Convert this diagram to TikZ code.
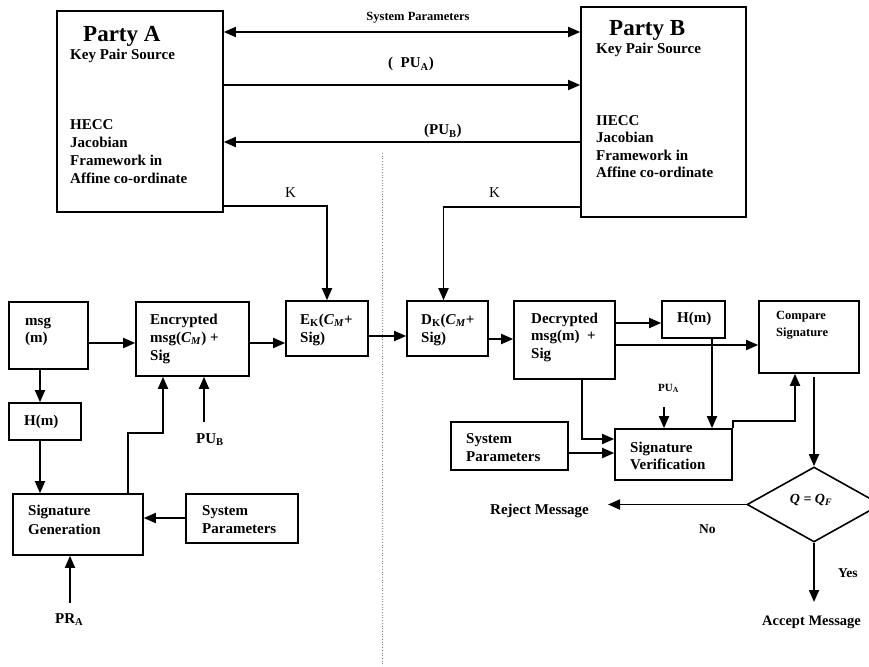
\documentclass[tikz,border=0pt]{standalone}
\usepackage{fontspec}
\setmainfont{Liberation Serif}
\usetikzlibrary{arrows.meta}
\usetikzlibrary{shapes.geometric}

\begin{document}
\begin{tikzpicture}[x=1pt,y=-1pt,
    box/.style={draw, line width=1.6pt, inner sep=0pt},
    arr/.style={line width=1.8pt, -{Triangle[length=12pt,width=10pt]}},
    dbl/.style={arr, {Triangle[length=12pt,width=10pt]}-{Triangle[length=12pt,width=10pt]}},
    lbl/.style={inner sep=0pt, anchor=base west, align=left, font=\bfseries\fontsize{15}{18}\selectfont},
    small/.style={lbl, font=\bfseries\fontsize{12.5}{17}\selectfont}]
\useasboundingbox (0,0) rectangle (869,666);

% the two parties
\node[box, minimum width=166, minimum height=201] (pa) at (140,111.5) {};
\node[box, minimum width=165, minimum height=210] (pb) at (663.5,112) {};
\node[lbl, font=\bfseries\fontsize{23}{26}\selectfont] (pat) at (83,42) {Party A};
\node[lbl] (pak) at (70,60) {Key Pair Source};
\node[lbl, font=\bfseries\fontsize{15}{17.7}\selectfont] (pah) at (70,183) {HECC\\Jacobian\\Framework in\\Affine co-ordinate};
\node[lbl, font=\bfseries\fontsize{23}{26}\selectfont] (pbt) at (609,36) {Party B};
\node[lbl] (pbk) at (596,54) {Key Pair Source};
\node[lbl, font=\bfseries\fontsize{15}{17.5}\selectfont] (pbh) at (596,177.5) {IIECC\\Jacobian\\Framework in\\Affine co-ordinate};

% sender side
\node[box, minimum width=79, minimum height=67] (msg) at (48.5,335.5) {};
\node[box, minimum width=113, minimum height=74] (enc) at (192.5,339) {};
\node[box, minimum width=82, minimum height=55] (ek) at (327,328.5) {};
\node[box, minimum width=72, minimum height=37] (hml) at (45,421.5) {};
\node[box, minimum width=130, minimum height=61] (sg) at (78,524.5) {};
\node[box, minimum width=112, minimum height=49] (spl) at (242,518.5) {};
\node[lbl, font=\bfseries\fontsize{15}{17}\selectfont] (msgt) at (25,342) {msg\\(m)};
\node[lbl] (enct) at (150,360) {Encrypted\\msg(\textit{C}\textsubscript{\textit{M}}) +\\Sig};
\node[lbl] (ekt) at (300,342) {E\textsubscript{K}(\textit{C}\textsubscript{\textit{M}}+\\Sig)};
\node[lbl] (hmlt) at (24,425) {H(m)};
\node[lbl, font=\bfseries\fontsize{15}{19}\selectfont] (sgt) at (28,534) {Signature\\Generation};
\node[lbl] (splt) at (202,533) {System\\Parameters};
\coordinate (pub) at (204,422);
\coordinate (pra) at (70,603);
\node[lbl] (pubt) at (196,443) {PU\textsubscript{B}};
\node[lbl] (prat) at (55,623) {PR\textsubscript{A}};

% receiver side
\node[box, minimum width=81, minimum height=55] (dk) at (447.5,328.5) {};
\node[box, minimum width=101, minimum height=78] (dec) at (564.5,340) {};
\node[box, minimum width=63, minimum height=37] (hmr) at (693.5,319.5) {};
\node[box, minimum width=100, minimum height=72] (cmp) at (809,337) {};
\node[box, minimum width=117, minimum height=51] (sv) at (673.5,454.5) {};
\node[box, minimum width=117, minimum height=48] (spr) at (509.5,446) {};
\node[draw, diamond, line width=1.6pt, inner sep=0pt, minimum width=134, minimum height=75] (dia) at (814,504.5) {};
\node[lbl] (dkt) at (421,342) {D\textsubscript{K}(\textit{C}\textsubscript{\textit{M}}+\\Sig)};
\node[lbl, font=\bfseries\fontsize{15}{17.5}\selectfont] (dect) at (531,358) {Decrypted\\msg(m)~~+\\Sig};
\node[lbl] (hmrt) at (677,322) {H(m)};
\node[small] (cmpt) at (776,336) {Compare\\Signature};
\node[lbl, font=\bfseries\fontsize{15}{17}\selectfont] (svt) at (630,469) {Signature\\Verification};
\node[lbl] (sprt) at (466,461) {System\\Parameters};
\node[small, font=\bfseries\fontsize{11}{13}\selectfont] (puat) at (658,391) {PU\textsubscript{A}};
\node[small, anchor=base, font=\bfseries\fontsize{14}{17}\selectfont] (diat) at (811,503) {\textit{Q = Q}\textsubscript{\textit{F}}};
\coordinate (pua) at (664,407);
\coordinate (rej) at (608,504.5);
\coordinate (acc) at (814,602);
\node[lbl] (rejt) at (490,514) {Reject Message};
\node[small, font=\bfseries\fontsize{13.5}{16}\selectfont] (not) at (699,533) {No};
\node[small, font=\bfseries\fontsize{13.5}{16}\selectfont] (yest) at (838,577) {Yes};
\node[lbl, font=\bfseries\fontsize{14.5}{17}\selectfont] (acct) at (762,625) {Accept Message};

% key exchange
\draw[dbl] (pa.east |- 0,32) -- (pb.west |- 0,32);
\draw[arr] (pa.east |- 0,85) -- (pb.west |- 0,85);
\draw[arr] (pb.west |- 0,142) -- (pa.east |- 0,142);
\draw[arr] (pa.east |- 0,206) -| (ek.north);
\draw[arr] (pb.west |- 0,207) -| ([xshift=-4pt]dk.north);
\node[small, anchor=base] (spt) at (418,21) {System Parameters};
\node[lbl] (puAt) at (388,68) {(~~PU\textsubscript{A})};
\node[lbl] (puBt) at (424,135) {(PU\textsubscript{B})};
\node[lbl, font=\fontsize{15}{18}\selectfont] (ka) at (285,197) {K};
\node[lbl, font=\fontsize{15}{18}\selectfont] (kb) at (489,197) {K};

% sender flow
\draw[arr] (msg.east |- 0,343) -- (enc.west |- 0,343);
\draw[arr] (enc.east |- 0,343) -- (ek.west |- 0,343);
\draw[arr] (ek.east |- 0,336) -- (dk.west |- 0,336);
\draw[arr] (msg.south -| 40,0) -- (hml.north -| 40,0);
\draw[arr] (hml.south -| 40,0) -- (sg.north -| 40,0);
\draw[arr] (sg.north -| 128,0) |- (163,433) -- (enc.south -| 163,0);
\draw[arr] (pub) -- (enc.south -| pub);
\draw[arr] (spl.west |- 0,518) -- (sg.east |- 0,518);
\draw[arr] (pra) -- (sg.south -| pra);

% receiver flow
\draw[arr] (dk.east |- 0,339) -- (dec.west |- 0,339);
\draw[arr] (dec.east |- 0,323) -- (hmr.west |- 0,323);
\draw[arr] (dec.east |- 0,345) -- (cmp.west |- 0,345);
\draw[arr] (hmr.south -| 712,0) -- (sv.north -| 712,0);
\draw[arr] (pua) -- (sv.north -| pua);
\draw[arr] (dec.south -| 582,0) |- (sv.west |- 0,439);
\draw[arr] (spr.east |- 0,453) -- (sv.west |- 0,453);
\draw[arr] (sv.north east) -- ++(0,-7) -| (cmp.south -| 795,0);
\draw[arr] (dia.north |- 0,377) -- (dia.north);
\draw[arr] (dia.west) -- (rej);
\draw[arr] (dia.south) -- (acc);

% divider
\draw[gray, dotted, line width=0.7pt] (382,153) -- (382,666);
\end{tikzpicture}
\end{document}
